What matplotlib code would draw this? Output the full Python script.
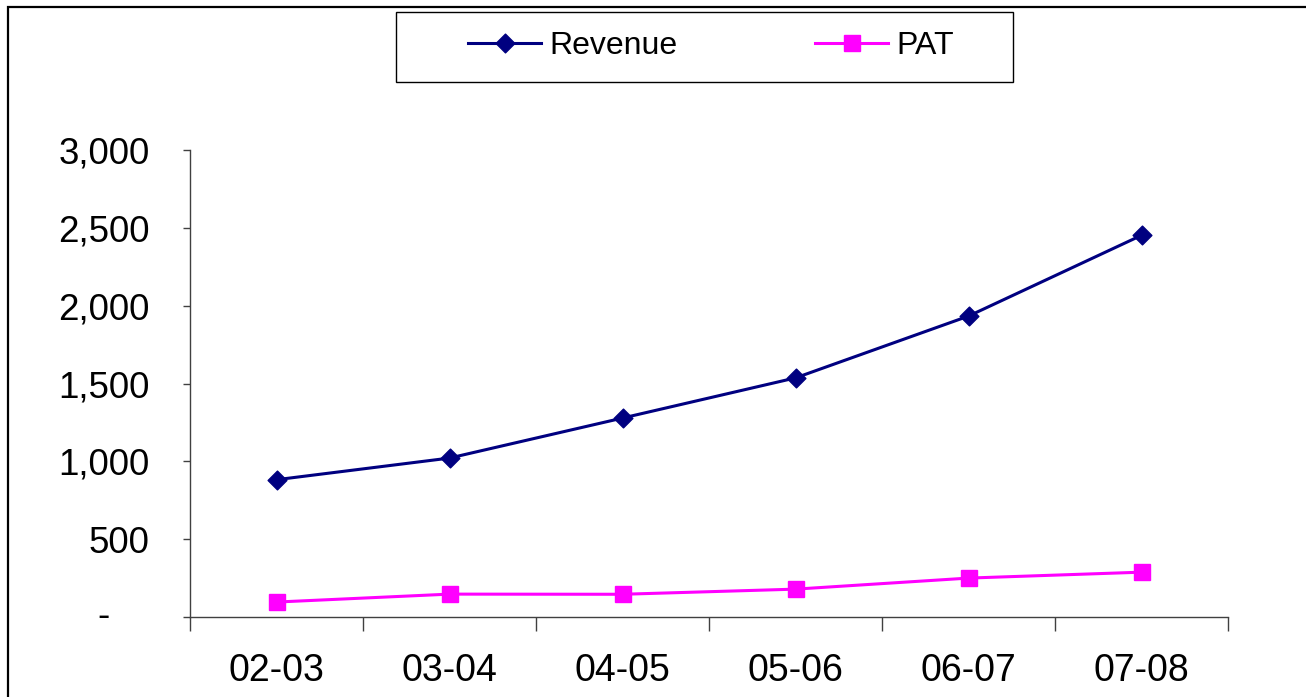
import matplotlib
matplotlib.use('Agg')
import matplotlib.pyplot as plt
from matplotlib.patches import Rectangle
from matplotlib.path import Path
from matplotlib.lines import Line2D
import matplotlib.transforms as mtransforms
import numpy as np

years = ["02-03", "03-04", "04-05", "05-06", "06-07", "07-08"]
revenue = [882, 1021, 1278, 1536, 1933, 2452]
pat = [96, 147, 146, 179, 250, 288]

navy = "#000080"
magenta = "#FF00FF"

plt.rcParams['font.family'] = ['Liberation Sans', 'DejaVu Sans']

fig = plt.figure(figsize=(13.06, 6.97), dpi=100)
W, H = 1306, 697
ax = fig.add_axes([190 / W, 1 - 617 / H, (1228 - 190) / W, (617 - 150) / H])

# excel style diamond
diamond = Path([(0, 1), (1, 0), (0, -1), (-1, 0), (0, 1)],
               [Path.MOVETO, Path.LINETO, Path.LINETO, Path.LINETO, Path.CLOSEPOLY])

x = np.arange(len(years)) + 0.5
ax.plot(x, revenue, color=navy, lw=2.2, marker=diamond, ms=13.5, mfc=navy, mec=navy, label="Revenue")
ax.plot(x, pat, color=magenta, lw=2.2, marker='s', ms=11, mfc=magenta, mec=magenta, label="PAT")

ax.set_xlim(0, len(years))
ax.set_ylim(0, 3000)

for s in ['top', 'right']:
    ax.spines[s].set_visible(False)
for s in ['left', 'bottom']:
    ax.spines[s].set_color('#404040')
    ax.spines[s].set_linewidth(1)

ax.set_yticks(np.arange(0, 3001, 500))
ax.set_yticklabels([f"{v:,}" if v else "" for v in range(0, 3001, 500)])
ax.tick_params(axis='y', length=5, width=1, color='#404040', pad=24, labelsize=26.5)
ax.text(-0.0838, 0, "-", transform=mtransforms.blended_transform_factory(ax.transAxes, ax.transData),
        ha='center', va='center', fontsize=26.5)

ax.set_xticks(np.arange(0, len(years) + 1))
ax.set_xticklabels([])
ax.set_xticks(x, minor=True)
ax.set_xticklabels(years, minor=True)
ax.tick_params(axis='x', which='major', direction='out', length=10, width=1, color='#404040')
ax.tick_params(axis='x', which='minor', length=0, pad=26, labelsize=27)

# outer chart border (right/bottom edges fall outside the image)
fig.add_artist(Rectangle((8 / W, -0.2), 1.2, 1 - 7 / H + 0.2, transform=fig.transFigure,
                         fill=False, edgecolor='black', lw=1.6, clip_on=False))

# legend box
fig.add_artist(Rectangle((396 / W, 1 - 82 / H), (1013 - 396) / W, 70 / H, transform=fig.transFigure,
                         fill=False, edgecolor='black', lw=1, clip_on=False))
handles = [
    Line2D([], [], color=navy, lw=2.2, marker=diamond, ms=13.5, mfc=navy, mec=navy),
    Line2D([], [], color=magenta, lw=2.2, marker='s', ms=11, mfc=magenta, mec=magenta),
]
fig.legend(handles, ["Revenue", "PAT"], loc='center', bbox_to_anchor=(711 / W, 1 - 46 / H),
           ncol=2, frameon=False, fontsize=23, handlelength=2.3, handletextpad=0.25,
           columnspacing=4.3, borderpad=0, markerscale=1)

fig.savefig("out.png", dpi=100)
